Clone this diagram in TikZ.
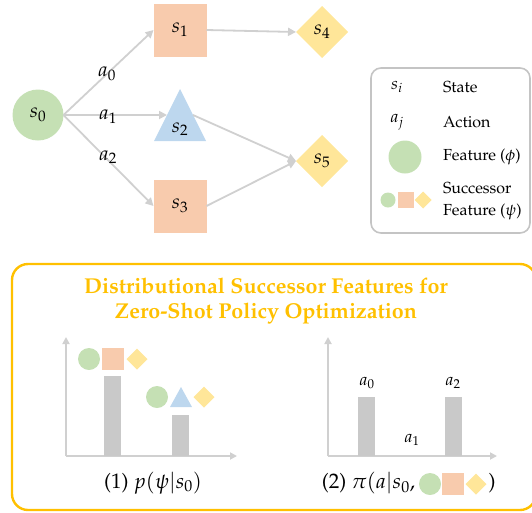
\documentclass[tikz,border=0pt]{standalone}
\usepackage[T1]{fontenc}
\usepackage{mathpazo}
\usetikzlibrary{shapes.geometric,arrows.meta,calc}
\definecolor{gfill}{HTML}{C5E0B4}
\definecolor{ofill}{HTML}{F8CBAD}
\definecolor{bfill}{HTML}{BDD7EE}
\definecolor{yfill}{HTML}{FFE699}
\definecolor{arr}{HTML}{D0D0D0}
\definecolor{barc}{HTML}{C9C9C9}
\definecolor{gold}{HTML}{FFC000}
\definecolor{legendc}{HTML}{C4C4C4}
\begin{document}
\begin{tikzpicture}[x=1pt,y=-1pt,
  every node/.style={inner sep=0pt, outer sep=0pt},
  circ/.style={circle, fill=gfill, minimum size=#1},
  sq/.style={rectangle, fill=ofill, minimum size=#1},
  dia/.style={diamond, fill=yfill, minimum width=#1, minimum height=#1},
  tri/.style={isosceles triangle, isosceles triangle apex angle=#1, shape border rotate=90, isosceles triangle stretches, fill=bfill},
  conn/.style={draw=arr, line width=1.8pt, -{Triangle[length=8pt,width=8pt]}},
  axis/.style={draw=arr, line width=1.8pt, -{Triangle[length=7pt,width=7pt]}},
  lbl/.style={font=\fontsize{20}{24}\selectfont},
  mlbl/.style={font=\fontsize{17}{22}\selectfont},
  txt/.style={font=\fontsize{16}{22}\selectfont},
  captxt/.style={font=\fontsize{21}{24}\selectfont},
  barst/.style={fill=barc},
]
\useasboundingbox (0,0) rectangle (532,512);

% graph
\node[circ=51, lbl] (s0) at (38,115) {$s_0$};
\node[sq=53, lbl] (s1) at (180,30) {$s_1$};
\node[sq=53, lbl] (s3) at (180,206) {$s_3$};
\node[dia=52, lbl] (s4) at (322,32) {$s_4$};
\node[dia=52, lbl] (s5) at (322,161) {$s_5$};
\node[tri=53, minimum width=52, minimum height=52, anchor=apex] (s2) at (180,89) {};
\node[lbl] (s2t) at (180,129) {$s_2$};

\draw[conn] (s0.east) -- (s1.west);
\draw[conn] (s0.east) -- (s2.left side);
\draw[conn] (s0.east) -- (s3.west);
\draw[conn] (s1.east) -- (s4.west);
\draw[conn] (s2.right side) -- (s5.west);
\draw[conn] (s3.east) -- (s5.west);

\node[lbl] (a0) at (107,74) {$a_0$};
\node[lbl] (a1) at (108,117) {$a_1$};
\node[lbl] (a2) at (108,157) {$a_2$};

% legend
\draw[legendc, line width=1.6pt, rounded corners=10pt] (371,68) rectangle (530,233);
\node[mlbl] (li) at (397,87) {$s_i$};
\node[txt, anchor=west] (lstate) at (443,87) {State};
\node[mlbl] (lj) at (397,122) {$a_j$};
\node[txt, anchor=west] (laction) at (443,122) {Action};
\node[circ=33] (lfeat) at (405,157) {};
\node[txt, anchor=west] (lfeatt) at (443,157) {Feature ($\phi$)};
\node[circ=15] (lc) at (388,200) {};
\node[sq=16] (ls) at (406,200) {};
\node[dia=17] (ld) at (423,200) {};
\node[txt, anchor=west, align=left] (lsf) at (443,201) {Successor\\Feature ($\psi$)};

% bottom box
\draw[gold, line width=2.4pt, rounded corners=16pt] (12,264) rectangle (536,510);
\node[font=\fontsize{21.5}{25}\selectfont\bfseries, text=gold, align=center] (title) at (266,301)
  {Distributional Successor Features for\\Zero-Shot Policy Optimization};

% chart 1
\coordinate (o1) at (66,456);
\coordinate (y1) at (66,337);
\coordinate (x1) at (237,456);
\draw[axis] (o1) -- (y1);
\draw[axis] (o1) -- (x1);
\fill[barst] (104,376) rectangle (121,456);
\fill[barst] (172,415) rectangle (189,456);
\node[circ=22] (c1a) at (89,359) {};
\node[sq=22] (c1b) at (113,359) {};
\node[dia=21] (c1c) at (137,359) {};
\node[circ=22] (c2a) at (157,397) {};
\node[tri=57, minimum width=22, minimum height=20, anchor=apex] (c2b) at (181,387) {};
\node[dia=21] (c2c) at (204,397) {};
\node[captxt] (cap1) at (153,483) {(1) $p(\psi|s_0)$};

% chart 2
\coordinate (o2) at (328,456);
\coordinate (y2) at (328,337);
\coordinate (x2) at (497,456);
\draw[axis] (o2) -- (y2);
\draw[axis] (o2) -- (x2);
\fill[barst] (358,397) rectangle (375,456);
\fill[barst] (445,397) rectangle (462,456);
\node[mlbl] (b0) at (367,383) {$a_0$};
\node[mlbl] (b2) at (453,383) {$a_2$};
\node[mlbl] (b1) at (412,440) {$a_1$};
\node[captxt, anchor=east] (cap2) at (415,483) {(2) $\pi(a|s_0,$};
\node[circ=22] (p2a) at (430,484) {};
\node[sq=22] (p2b) at (453,484) {};
\node[dia=21] (p2c) at (476,484) {};
\node[captxt] (cap2e) at (492,483) {)};
\end{tikzpicture}
\end{document}
